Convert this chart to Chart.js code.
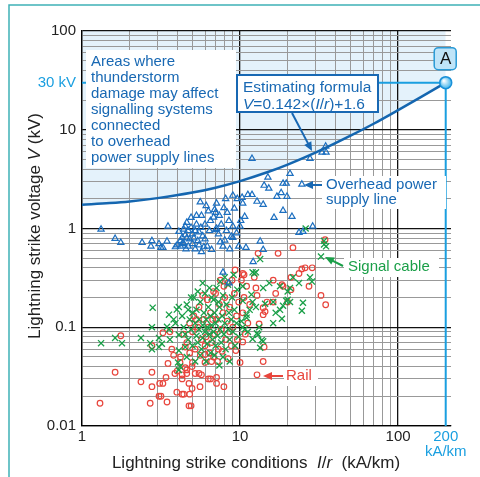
<!DOCTYPE html>
<html>
<head>
<meta charset="utf-8">
<script src="https://cdn.jsdelivr.net/npm/chart.js@4.4.0/dist/chart.umd.min.js"></script>
<style>
  html, body { margin: 0; padding: 0; background: #fff; }
  #wrap { position: relative; width: 480px; height: 477px; background: #fff; }
</style>
</head>
<body>
<div id="wrap"><canvas id="chart" width="480" height="477"></canvas></div>
<script>
// grid lines / tick positions
const xTicks = [1, 2, 3, 4, 5, 6, 7, 8, 9, 10, 20, 30, 40, 50, 60, 70, 80, 90, 100, 200];
const yTicks = [0.01, 0.02, 0.03, 0.04, 0.05, 0.06, 0.07, 0.08, 0.09,
                0.1, 0.2, 0.3, 0.4, 0.5, 0.6, 0.7, 0.8, 0.9,
                1, 2, 3, 4, 5, 6, 7, 8, 9,
                10, 20, 30, 40, 50, 60, 70, 80, 90, 100];
const xLabels = { 1: '1', 10: '10', 100: '100', 200: ['200', 'kA/km'] };
const yLabels = { 0.01: '0.01', 0.1: '0.1', 1: '1', 10: '10', 30: '30 kV', 100: '100' };

// estimating formula curve (I/r, V)
const curvePts = [[1, 1.74], [1.5, 1.81], [2, 1.88], [3, 2.03], [5, 2.31], [7, 2.59], [10, 3.02],
                  [15, 3.73], [20, 4.44], [30, 5.86], [50, 8.7], [70, 11.5], [100, 15.8], [140, 21.5], [200, 30]];
const pointA = [200, 30];

// overhead power supply line (triangles)
const overheadPts = [
  [1.32,0.98],[1.62,0.79],[1.76,0.72],[2.4,0.72],[2.77,0.75],[2.73,0.66],[3.07,0.70],[3.16,0.64],[3.25,0.64],
  [3.45,0.74],[3.5,1.05],[3.9,0.65],[4.0,0.68],[4.1,0.93],[4.2,0.66],[4.2,0.75],[4.3,0.81],[4.35,0.72],[4.4,0.98],
  [4.4,0.7],[4.5,0.86],[4.5,1.05],[4.55,0.62],[4.6,1.15],[4.6,0.8],[4.7,0.95],[4.7,0.66],[4.8,0.78],[4.9,1.29],
  [4.9,1.02],[5.0,0.88],[5.0,0.70],[5.1,0.8],[5.2,0.62],[5.2,0.95],[5.3,1.35],[5.3,1.1],[5.4,0.75],[5.5,0.92],
  [5.5,0.68],[5.6,1.85],[5.65,1.02],[5.7,1.35],[5.7,0.58],[5.8,0.84],[5.9,0.65],[6.0,0.78],[6.0,1.1],[6.1,1.7],
  [6.2,0.66],[6.3,1.5],[6.4,0.95],[6.5,1.2],[6.6,0.61],[6.8,1.3],[6.9,1.55],[7.0,1.45],[7.0,0.97],[7.1,1.8],
  [7.1,1.0],[7.3,0.88],[7.4,1.35],[7.5,0.73],[7.6,1.1],[7.8,0.66],[7.9,1.62],[8.0,0.76],[8.1,2.0],[8.2,0.95],
  [8.3,1.45],[8.5,1.2],[8.6,0.62],[8.8,0.83],[9.0,2.16],[9.0,1.05],[9.0,0.81],[9.2,1.6],[9.5,0.9],[9.6,2.0],
  [9.8,0.66],[10,1.05],[10.1,1.2],[10.3,2.06],[10.4,1.8],[10.7,1.32],[10.9,0.64],[11.2,2.2],[11.9,2.2],[11.9,5.1],
  [12.1,0.46],[12.8,1.88],[13.4,0.74],[14,1.75],[14,0.61],[14.2,2.73],[15.2,2.55],[15,3.3],[16.4,1.29],[17.1,2.11],
  [18.2,2.3],[18.7,2.86],[18.7,1.52],[19.6,2.86],[19.8,2.11],[20.7,3.6],[21.3,1.32],[23.6,0.91],[24.6,2.8],[25,0.93],
  [27.7,5.1],[28.8,1.05],[33,5.9],[34.8,6.8],[35,5.9],[7.8,0.36],[8.5,0.28]
];

// signal cable (crosses)
const signalPts = [
  [1.32,0.069],[1.62,0.078],[1.79,0.069],[2.36,0.078],[2.8,0.158],[2.77,0.1],[2.7,0.069],[2.77,0.06],[3.07,0.078],
  [3.2,0.068],[3.07,0.063],[3.45,0.101],[3.55,0.095],[3.55,0.134],[3.8,0.12],[3.98,0.151],[4.1,0.16],[4.1,0.084],
  [4.1,0.058],[4.1,0.037],[4.05,0.044],[4.17,0.04],[4.5,0.063],[3.9,0.11],[3.6,0.075],
  [4.3,0.13],[4.4,0.1],[4.5,0.085],[4.6,0.17],[4.7,0.075],[4.8,0.12],[4.9,0.095],[5.0,0.14],[5.0,0.065],[5.1,0.2],
  [5.2,0.11],[5.3,0.082],[5.3,0.15],[5.4,0.07],[5.5,0.12],[5.5,0.095],[5.6,0.18],[5.7,0.06],[5.8,0.105],[5.8,0.078],
  [5.9,0.14],[6.0,0.22],[6.0,0.09],[6.1,0.12],[6.2,0.068],[6.2,0.1],[6.3,0.16],[6.4,0.085],[6.5,0.13],[6.5,0.055],
  [6.6,0.105],[6.7,0.075],[6.8,0.19],[6.8,0.09],[6.9,0.14],[7.0,0.11],[7.0,0.065],[7.1,0.25],[7.2,0.082],[7.3,0.12],
  [7.4,0.041],[7.4,0.16],[7.5,0.29],[7.5,0.095],[7.6,0.07],[7.7,0.13],[7.8,0.21],[7.9,0.085],[8.0,0.11],[8.1,0.06],
  [8.2,0.17],[8.4,0.27],[8.4,0.095],[8.5,0.14],[8.6,0.075],[8.8,0.12],[8.9,0.2],[9.0,0.09],[9.2,0.15],[9.3,0.065],
  [9.5,0.11],[9.6,0.24],[9.8,0.08],[4.6,0.05],[5.2,0.045],[5.6,0.052],[6.1,0.045],[6.9,0.052],[7.8,0.05],[8.6,0.045],
  [6.4,0.25],[5.4,0.23],[4.9,0.2],[8.0,0.32],[9.1,0.34],[6.6,0.2],[7.3,0.18],[5.8,0.28],[4.7,0.15],
  [26,1.0],[34,0.75],[35,0.66],[34,0.69],[32.5,0.52],[13.4,0.49],[12.3,0.35],[12.6,0.36],[12,0.36],[27.7,0.32],
  [28.5,0.29],[21.6,0.32],[23.6,0.28],[17.9,0.26],[15.3,0.28],[14,0.25],[20,0.23],[20.7,0.25],[16.2,0.18],[18.7,0.165],
  [20,0.19],[20.7,0.18],[19.6,0.185],[17.9,0.15],[16.8,0.14],[24.6,0.147],[25,0.177],[18.4,0.122],[16.2,0.11],[14.4,0.173],
  [12.6,0.16],[12,0.18],[11.8,0.214],[10.4,0.26],[10.4,0.185],[11,0.134],[11,0.125],[10.4,0.1],[10.7,0.095],[11.2,0.09],
  [12.8,0.087],[13,0.084],[13.7,0.074],[14,0.072],[12,0.076],[13.4,0.062],[13.2,0.1],[10.2,0.115],[11.5,0.15]
];

// rail (circles)
const railPts = [
  [1.3,0.017],[1.62,0.035],[1.76,0.082],[2.36,0.028],[2.77,0.035],[2.77,0.025],[2.7,0.017],[3.07,0.02],[3.16,0.02],
  [3.1,0.027],[3.25,0.027],[3.45,0.0175],[3.4,0.031],[3.5,0.043],[2.77,0.065],[3.7,0.06],[3.87,0.034],[3.98,0.022],
  [4.3,0.021],[4.4,0.021],[4.75,0.016],[4.8,0.021],[4.75,0.027],[4.3,0.03],[4.3,0.033],[4.5,0.039],[4.97,0.024],
  [5.58,0.025],[5.5,0.034],[5.7,0.033],[4.97,0.04],[6.3,0.03],[7.1,0.031],[7.1,0.027],[7.9,0.025],[4.9,0.016],
  [4.0,0.036],[4.6,0.034],[5.2,0.034],[6.5,0.03],[6,0.044],[4.17,0.044],[3.8,0.052],[4.2,0.05],[4.5,0.063],
  [4.8,0.055],[4.6,0.037],[5.0,0.044],[5.6,0.052],[6.0,0.053],[6.6,0.045],[6.8,0.05],[8.4,0.048],[10,0.044],[3.6,0.09],
  [3.25,0.088],
  [4.6,0.07],[5.0,0.09],[5.2,0.06],[5.5,0.16],[5.7,0.075],[5.9,0.12],[6.0,0.065],[6.2,0.19],[6.3,0.1],[6.5,0.14],
  [6.6,0.07],[6.8,0.23],[6.9,0.085],[7.0,0.22],[7.1,0.12],[7.3,0.06],[7.4,0.17],[7.5,0.3],[7.6,0.095],[7.8,0.14],
  [8.0,0.2],[8.1,0.075],[8.3,0.115],[8.4,0.28],[8.6,0.16],[8.8,0.065],[9.0,0.1],[9.2,0.22],[9.3,0.38],[9.5,0.13],
  [9.6,0.075],[9.8,0.18],[5.3,0.12],[5.8,0.21],[6.4,0.055],[7.2,0.045],[5.4,0.1],[6.1,0.08],[7.7,0.057],[8.6,0.09],
  [9.4,0.058],[6.7,0.12],[4.8,0.11],[4.4,0.085],[5.1,0.13],[7.9,0.26],[8.9,0.3],
  [34.5,0.77],[21.6,0.64],[17.4,0.56],[13,0.56],[10.4,0.35],[10.6,0.34],[12.3,0.32],[16.2,0.3],[24.6,0.39],[25.8,0.4],
  [28.6,0.4],[18.4,0.27],[18.7,0.26],[23.6,0.35],[21,0.32],[27.3,0.26],[12.6,0.25],[12.8,0.21],[16.8,0.22],[21,0.24],
  [32.5,0.21],[34.8,0.169],[14.8,0.18],[16.2,0.18],[20,0.18],[14,0.158],[14.4,0.144],[14,0.134],[10.4,0.14],[13.2,0.108],
  [10.4,0.071],[14.2,0.063],[14,0.045],[12.8,0.033],[10.2,0.3],[11,0.26],[10.6,0.2],[11.5,0.17],[11.2,0.11],[10.8,0.085]
];

const FONT = "'Liberation Sans', Arial, Helvetica, sans-serif";
const DARK_BLUE = '#1868b3';
const LIGHT_BLUE = '#1a9fe0';
const GREEN = '#1a9f48';
const RED = '#e8453c';

const toXY = pts => pts.map(p => ({ x: p[0], y: p[1] }));
const isDecade = v => Math.abs(Math.log10(v) - Math.round(Math.log10(v))) < 1e-6;

function richText(ctx, parts, x, y, size, align) {
  const fonts = parts.map(p => (p[1] ? 'italic ' : '') + size + 'px ' + FONT);
  let total = 0;
  const widths = parts.map((p, i) => {
    ctx.font = fonts[i];
    const w = ctx.measureText(p[0]).width;
    total += w;
    return w;
  });
  let cx = align === 'center' ? x - total / 2 : x;
  ctx.textAlign = 'left';
  ctx.textBaseline = 'middle';
  parts.forEach((p, i) => {
    ctx.font = fonts[i];
    ctx.fillText(p[0], cx, y);
    cx += widths[i];
  });
}

function arrow(ctx, x1, y1, x2, y2, color) {
  const ang = Math.atan2(y2 - y1, x2 - x1);
  const len = 9, half = 4;
  ctx.save();
  ctx.strokeStyle = color;
  ctx.fillStyle = color;
  ctx.lineWidth = 2;
  ctx.beginPath();
  ctx.moveTo(x1, y1);
  ctx.lineTo(x2 - Math.cos(ang) * len * 0.8, y2 - Math.sin(ang) * len * 0.8);
  ctx.stroke();
  ctx.beginPath();
  ctx.moveTo(x2, y2);
  ctx.lineTo(x2 - Math.cos(ang) * len - Math.sin(ang) * half, y2 - Math.sin(ang) * len + Math.cos(ang) * half);
  ctx.lineTo(x2 - Math.cos(ang) * len + Math.sin(ang) * half, y2 - Math.sin(ang) * len - Math.cos(ang) * half);
  ctx.closePath();
  ctx.fill();
  ctx.restore();
}

const decor = {
  id: 'decor',
  afterDatasetsDraw(chart) {
    const { ctx, scales: { x, y }, chartArea: a } = chart;
    const ax = x.getPixelForValue(pointA[0]);
    const ay = y.getPixelForValue(pointA[1]);
    ctx.save();
    ctx.strokeStyle = LIGHT_BLUE;
    ctx.lineWidth = 2;
    ctx.beginPath();
    ctx.moveTo(a.left, ay);
    ctx.lineTo(ax, ay);
    ctx.moveTo(ax, ay);
    ctx.lineTo(ax, a.bottom);
    ctx.stroke();
    ctx.restore();
  },
  afterDraw(chart) {
    const { ctx, scales: { x, y } } = chart;
    const ax = x.getPixelForValue(pointA[0]);
    const ay = y.getPixelForValue(pointA[1]);
    ctx.save();

    // frame of the figure
    ctx.strokeStyle = '#3fb1b7';
    ctx.lineWidth = 1.5;
    ctx.beginPath();
    ctx.moveTo(9, 477);
    ctx.lineTo(9, 5);
    ctx.lineTo(480, 5);
    ctx.stroke();

    // area note
    ctx.fillStyle = '#fff';
    ctx.fillRect(86, 50, 150, 118);
    ctx.fillStyle = DARK_BLUE;
    ctx.font = '15px ' + FONT;
    ctx.textAlign = 'left';
    ctx.textBaseline = 'middle';
    ['Areas where', 'thunderstorm', 'damage may affect', 'signalling systems',
     'connected', 'to overhead', 'power supply lines'].forEach((t, i) => ctx.fillText(t, 91, 62 + i * 16));

    // formula box
    ctx.fillStyle = '#fff';
    ctx.fillRect(237, 75, 141, 37);
    ctx.strokeStyle = DARK_BLUE;
    ctx.lineWidth = 2;
    ctx.strokeRect(237, 75, 141, 37);
    ctx.fillStyle = DARK_BLUE;
    richText(ctx, [['Estimating formula', false]], 243, 88, 15.5, 'left');
    richText(ctx, [['V', true], ['=0.142\u00d7(', false], ['I', true], ['/', false], ['r', true], [')+1.6', false]],
             243, 105, 15.5, 'left');
    arrow(ctx, 292, 113, 312, 151, DARK_BLUE);

    // series notes
    ctx.fillStyle = '#fff';
    ctx.fillRect(322, 176, 124, 33);
    ctx.fillStyle = DARK_BLUE;
    ctx.font = '15px ' + FONT;
    ctx.fillText('Overhead power', 326, 185);
    ctx.fillText('supply line', 326, 200);
    arrow(ctx, 322, 185, 304, 185, DARK_BLUE);

    ctx.fillStyle = '#fff';
    ctx.fillRect(344, 258, 95, 19);
    ctx.fillStyle = GREEN;
    ctx.fillText('Signal cable', 348, 267);
    arrow(ctx, 343, 266, 325, 257, GREEN);

    ctx.fillStyle = '#fff';
    ctx.fillRect(284, 367, 34, 19);
    ctx.fillStyle = RED;
    ctx.fillText('Rail', 286, 376);
    arrow(ctx, 283, 376, 263, 376, RED);

    // point A
    const g = ctx.createRadialGradient(ax - 2, ay - 2, 0.5, ax, ay, 6);
    g.addColorStop(0, '#ffffff');
    g.addColorStop(1, '#3db3ec');
    ctx.fillStyle = g;
    ctx.strokeStyle = '#1a90d8';
    ctx.lineWidth = 1.5;
    ctx.beginPath();
    ctx.arc(ax, ay, 6, 0, Math.PI * 2);
    ctx.fill();
    ctx.stroke();
    ctx.beginPath();
    ctx.roundRect(ax - 11.5, ay - 35, 22, 22, 4);
    ctx.fillStyle = '#bfe4f8';
    ctx.fill();
    ctx.strokeStyle = '#2a9ad6';
    ctx.stroke();
    ctx.fillStyle = '#111';
    ctx.font = '17px ' + FONT;
    ctx.textAlign = 'center';
    ctx.fillText('A', ax, ay - 23.5);

    // axis titles
    ctx.fillStyle = '#222';
    richText(ctx, [['Lightning strike conditions  ', false], ['I', true], ['/', false], ['r', true], ['  (kA/km)', false]],
             256, 463, 17, 'center');
    ctx.translate(35, 226);
    ctx.rotate(-Math.PI / 2);
    richText(ctx, [['Lightning strike voltage ', false], ['V', true], [' (kV)', false]], 0, 0, 17, 'center');
    ctx.restore();
  }
};

new Chart(document.getElementById('chart').getContext('2d'), {
  type: 'scatter',
  data: {
    datasets: [
      {
        label: 'Estimating formula',
        data: toXY(curvePts),
        showLine: true,
        borderColor: '#1466b0',
        borderWidth: 2.5,
        pointRadius: 0,
        cubicInterpolationMode: 'monotone',
        fill: 'end',
        backgroundColor: '#e4f2fb'
      },
      {
        label: 'Overhead power supply line',
        data: toXY(overheadPts),
        pointStyle: 'triangle',
        pointRadius: 3.6,
        borderWidth: 1.2,
        borderColor: '#1c6fc0',
        backgroundColor: 'rgba(255,255,255,0)'
      },
      {
        label: 'Signal cable',
        data: toXY(signalPts),
        pointStyle: 'crossRot',
        pointRadius: 4.3,
        borderWidth: 1.3,
        borderColor: GREEN
      },
      {
        label: 'Rail',
        data: toXY(railPts),
        pointStyle: 'circle',
        pointRadius: 2.8,
        borderWidth: 1.2,
        borderColor: RED,
        backgroundColor: 'rgba(255,255,255,0)'
      }
    ]
  },
  options: {
    responsive: false,
    animation: false,
    events: [],
    layout: { padding: { top: 31, right: 29, left: 0, bottom: 0 } },
    plugins: {
      legend: { display: false },
      tooltip: { enabled: false },
      filler: { drawTime: 'beforeDraw' }
    },
    scales: {
      x: {
        type: 'logarithmic',
        min: 1,
        max: 216,
        afterBuildTicks: s => { s.ticks = xTicks.map(v => ({ value: v })); },
        afterFit: s => { s.height = 51; },
        border: { display: true, color: '#000', width: 1.3 },
        grid: {
          drawTicks: false,
          color: c => (c.tick && c.tick.value === 200) ? 'rgba(0,0,0,0)' : (c.tick && isDecade(c.tick.value) ? '#111' : '#999'),
          lineWidth: c => (c.tick && isDecade(c.tick.value)) ? 1.3 : 1
        },
        ticks: {
          autoSkip: false,
          maxRotation: 0,
          padding: 3.5,
          font: { family: FONT, size: 15, lineHeight: 1 },
          color: c => (c.tick && c.tick.value === 200) ? LIGHT_BLUE : '#222',
          callback: v => xLabels[v] || ''
        }
      },
      y: {
        type: 'logarithmic',
        min: 0.01,
        max: 100,
        afterBuildTicks: s => { s.ticks = yTicks.map(v => ({ value: v })); },
        afterFit: s => { s.width = 82; },
        border: { display: true, color: '#000', width: 1.3 },
        grid: {
          drawTicks: false,
          color: c => (c.tick && isDecade(c.tick.value)) ? '#111' : '#999',
          lineWidth: c => (c.tick && isDecade(c.tick.value)) ? 1.3 : 1
        },
        ticks: {
          autoSkip: false,
          padding: 6,
          font: { family: FONT, size: 15 },
          color: c => (c.tick && c.tick.value === 30) ? LIGHT_BLUE : '#222',
          callback: v => yLabels[v] || ''
        }
      }
    }
  },
  plugins: [decor]
});
</script>
</body>
</html>
